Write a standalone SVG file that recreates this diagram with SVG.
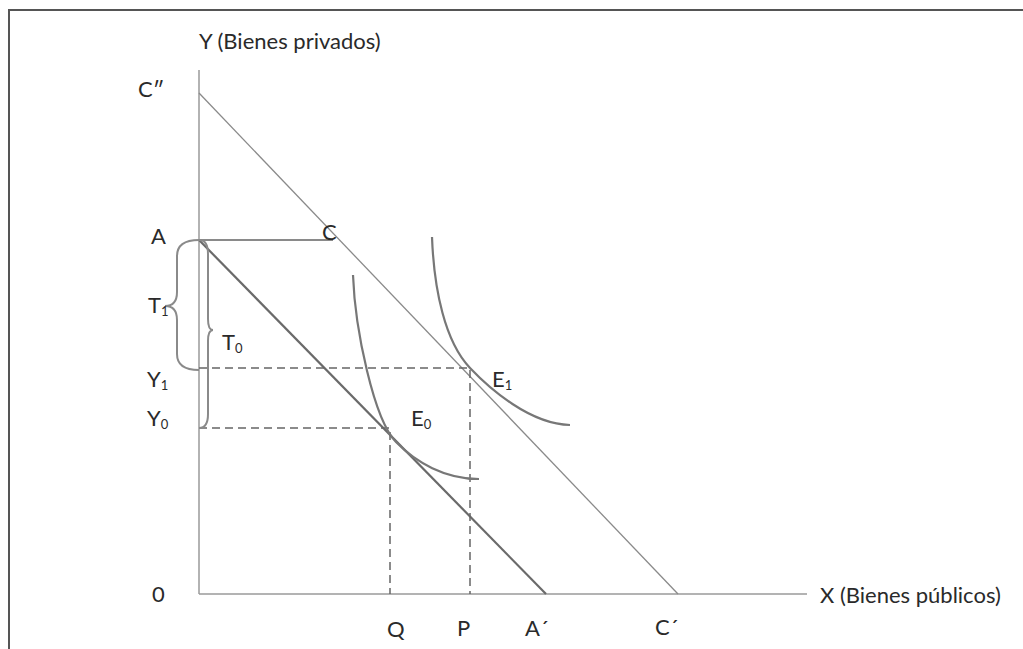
<svg xmlns="http://www.w3.org/2000/svg" width="1023" height="649" viewBox="0 0 1023 649">
<style>
.lbl{font-family:Lato,"Open Sans","Liberation Sans",sans-serif;font-size:22px;fill:#2a2a2a}
.sub{font-size:13px}
.axis{stroke:#9a9a9a;stroke-width:1.5;fill:none}
.thin{stroke:#8a8a8a;stroke-width:1.3;fill:none}
.thick{stroke:#6a6a6a;stroke-width:2.2;fill:none}
.curve{stroke:#777;stroke-width:2.2;fill:none}
.dash{stroke:#666;stroke-width:1.5;stroke-dasharray:8 5;fill:none}
.brace{stroke:#8a8a8a;stroke-width:2;fill:none}
</style>
<rect x="9" y="10" width="1030" height="660" fill="#fff" stroke="#555" stroke-width="2"/>
<g id="connectors">
<line class="axis" x1="199" y1="70" x2="199" y2="594"/>
<line class="axis" x1="199" y1="594" x2="807" y2="594"/>
<line class="thin" x1="199" y1="93" x2="678" y2="594"/>
<line class="thick" x1="199" y1="240" x2="546" y2="594"/>
<line class="brace" x1="199" y1="240" x2="333" y2="240"/>
<path class="dash" d="M199,368 H470 V594"/>
<path class="dash" d="M199,428 H390 V594"/>
<path class="brace" d="M199,240 Q177,240 177,256 L177,292 Q177,306 165,306 Q177,306 177,320 L177,354 Q177,370 199,370"/>
<path class="brace" d="M199,240 Q208,240 208,254 L208,319 Q208,330 213,330 Q208,330 208,341 L208,414 Q208,428 199,428"/>
</g>
<g id="curve-E1"><path class="curve" d="M432,237 C434,290 445,341.9 470,368 C490,389 530,424 570,425"/></g>
<g id="curve-E0"><path class="curve" d="M353,275 C355,330 374,419.6 396,442 C416,462.4 445,479 479,479"/></g>
<g id="labels">
<text class="lbl" x="199" y="49">Y (Bienes privados)</text>
<text class="lbl" x="138" y="97">C″</text>
<text class="lbl" x="151" y="244">A</text>
<text class="lbl" x="322" y="240">C</text>
<text class="lbl" x="148" y="313">T<tspan class="sub" dy="3">1</tspan></text>
<text class="lbl" x="222" y="350">T<tspan class="sub" dy="3">0</tspan></text>
<text class="lbl" x="147" y="387">Y<tspan class="sub" dy="3">1</tspan></text>
<text class="lbl" x="147" y="426">Y<tspan class="sub" dy="3">0</tspan></text>
<text class="lbl" x="492" y="387">E<tspan class="sub" dy="3">1</tspan></text>
<text class="lbl" x="411" y="426">E<tspan class="sub" dy="3">0</tspan></text>
<text class="lbl" x="152" y="602">0</text>
<text class="lbl" x="387" y="637">Q</text>
<text class="lbl" x="457" y="636">P</text>
<text class="lbl" x="525" y="636">A´</text>
<text class="lbl" x="655" y="635">C´</text>
<text class="lbl" x="820" y="603">X (Bienes públicos)</text>
</g>
</svg>
